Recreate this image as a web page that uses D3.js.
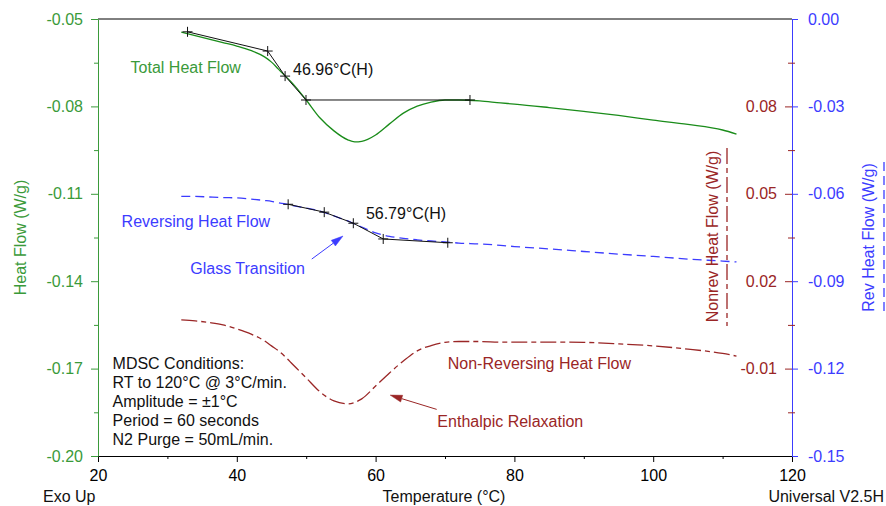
<!DOCTYPE html>
<html>
<head>
<meta charset="utf-8">
<script src="https://cdnjs.cloudflare.com/ajax/libs/d3/7.8.5/d3.min.js"></script>
<style>
  body { margin: 0; background: #fff; }
  svg text { font-family: "Liberation Sans", Arial, sans-serif; font-size: 16px; }
</style>
</head>
<body>
<svg id="canvas"></svg>
<script>
const WIDTH = 886;
const HEIGHT = 506;
const LEFT = 98;
const RIGHT = 792;
const TOP = 19;
const BOTTOM = 456;

const GREEN = "#3a9a3a";
const GREEN_LINE = "#1a8c1a";
const BLUE = "#3c3cff";
const RED = "#9a2626";
const NONREV_DASH = "16,4,5,4";
const REV_DASH = "9,5";

// temperature (°C) shared by the three signals
const temps = [32, 34, 36, 38, 40, 42, 44, 45, 46, 47, 48, 50, 52, 54, 56, 57, 58, 60, 62, 64,
  66, 68, 70, 72, 75, 78, 80, 85, 90, 95, 100, 105, 110, 112];

// Total Heat Flow (W/g), left axis
const totalFlow = [-0.0545, -0.0557, -0.0569, -0.0581, -0.0593, -0.0608, -0.0630, -0.0648, -0.0672,
  -0.0696, -0.0720, -0.0778, -0.0840, -0.0884, -0.0915, -0.0922, -0.0920, -0.0898, -0.0860, -0.0823,
  -0.0799, -0.0785, -0.0778, -0.0778, -0.0781, -0.0788, -0.0792, -0.0804, -0.0817, -0.0831, -0.0847,
  -0.0862, -0.0881, -0.0895];

// Reversing Heat Flow (W/g), right blue axis
const revFlow = [-0.0609, -0.0609, -0.0611, -0.0613, -0.0614, -0.0618, -0.0623, -0.0626, -0.0631,
  -0.0635, -0.0640, -0.0649, -0.0659, -0.0676, -0.0693, -0.0704, -0.0714, -0.0734, -0.0746, -0.0753,
  -0.0758, -0.0762, -0.0765, -0.0769, -0.0772, -0.0777, -0.0781, -0.0789, -0.0798, -0.0807, -0.0815,
  -0.0824, -0.0831, -0.0834];

// Non-Reversing Heat Flow (W/g), right red axis
const nonrevFlow = [0.0067, 0.0064, 0.0058, 0.0050, 0.0036, 0.0019, -0.0005, -0.0022, -0.0039,
  -0.0060, -0.0084, -0.0132, -0.0180, -0.0211, -0.0221, -0.0216, -0.0204, -0.0160, -0.0115, -0.0074,
  -0.0039, -0.0021, -0.0010, -0.0007, -0.0007, -0.0009, -0.0009, -0.0009, -0.0010, -0.0015, -0.0022,
  -0.0033, -0.0048, -0.0057];

// glass transition analysis constructions
const totalTangentT = [32.9, 44.45, 46.96, 49.97, 73.6];
const totalTangentV = [-0.0544, -0.0610, -0.0696, -0.0778, -0.0778];
const revTangentT = [47.4, 52.6, 56.79, 61.1, 70.4];
const revTangentV = [-0.0636, -0.0663, -0.0701, -0.0755, -0.0768];

// axis ticks
const xTicks = [20, 40, 60, 80, 100, 120];
const xMinor = [30, 50, 70, 90, 110];
const leftTicks = [-0.05, -0.08, -0.11, -0.14, -0.17, -0.20];
const leftMinor = [-0.065, -0.095, -0.125, -0.155, -0.185];
const revTicks = [0.0, -0.03, -0.06, -0.09, -0.12, -0.15];
const revMinor = [-0.015, -0.045, -0.075, -0.105, -0.135];
const nonrevTicks = [0.08, 0.05, 0.02, -0.01];

const conditions = [
  "MDSC Conditions:",
  "RT to 120°C @ 3°C/min.",
  "Amplitude = ±1°C",
  "Period = 60 seconds",
  "N2 Purge = 50mL/min."
];

const canvas = d3.select("#canvas").attr("width", WIDTH).attr("height", HEIGHT);

const xScale = d3.scaleLinear().domain([20, 120]).range([LEFT, RIGHT]);
const yLeft = d3.scaleLinear().domain([-0.20, -0.05]).range([BOTTOM, TOP]);
const yRev = d3.scaleLinear().domain([-0.15, 0.0]).range([BOTTOM, TOP]);
const yNonrev = d3.scaleLinear().domain([-0.04, 0.11]).range([BOTTOM, TOP]);

// plain hyphen instead of d3's unicode minus
const fmt2 = (d) => d3.format(".2f")(d).replace("\u2212", "-");

const styleAxis = (g, color) => {
  g.attr("font-size", 16).attr("font-family", "Liberation Sans, Arial, sans-serif");
  g.selectAll("line").attr("stroke", color);
  g.selectAll("path").attr("stroke", color);
  g.selectAll("text").attr("fill", color);
};

const drawAxes = () => {
  // top frame line
  canvas.append("line")
    .attr("x1", LEFT).attr("x2", RIGHT).attr("y1", TOP).attr("y2", TOP)
    .attr("stroke", "#000");

  const xAxis = d3.axisBottom(xScale).tickValues(xTicks).tickSize(6).tickSizeOuter(0)
    .tickPadding(8).tickFormat(d3.format("d"));
  canvas.append("g").attr("transform", `translate(0, ${BOTTOM})`).call(xAxis)
    .call((g) => styleAxis(g, "#000"));
  canvas.append("g").attr("transform", `translate(0, ${BOTTOM})`)
    .call(d3.axisBottom(xScale).tickValues(xMinor).tickSize(3).tickFormat(""))
    .call((g) => { styleAxis(g, "#000"); g.select(".domain").remove(); });

  const leftAxis = d3.axisLeft(yLeft).tickValues(leftTicks).tickSize(7).tickSizeOuter(0)
    .tickPadding(8).tickFormat(fmt2);
  canvas.append("g").attr("transform", `translate(${LEFT}, 0)`).call(leftAxis)
    .call((g) => styleAxis(g, GREEN));
  canvas.append("g").attr("transform", `translate(${LEFT}, 0)`)
    .call(d3.axisLeft(yLeft).tickValues(leftMinor).tickSize(4).tickFormat(""))
    .call((g) => { styleAxis(g, GREEN); g.select(".domain").remove(); });

  const revAxis = d3.axisRight(yRev).tickValues(revTicks).tickSize(6).tickSizeOuter(0)
    .tickPadding(10).tickFormat(fmt2);
  canvas.append("g").attr("transform", `translate(${RIGHT}, 0)`).call(revAxis)
    .call((g) => styleAxis(g, BLUE));

  const nonrevAxis = d3.axisLeft(yNonrev).tickValues(nonrevTicks).tickSize(7).tickSizeOuter(0)
    .tickPadding(8).tickFormat(fmt2);
  canvas.append("g").attr("transform", `translate(${RIGHT}, 0)`).call(nonrevAxis)
    .call((g) => { styleAxis(g, RED); g.select(".domain").remove(); });

  canvas.append("g").attr("transform", `translate(${RIGHT}, 0)`)
    .call(d3.axisRight(yRev).tickValues(revMinor).tickSize(3).tickFormat(""))
    .call((g) => { styleAxis(g, RED); g.select(".domain").remove(); });
  canvas.append("g").attr("transform", `translate(${RIGHT}, 0)`)
    .call(d3.axisLeft(yRev).tickValues(revMinor).tickSize(4).tickFormat(""))
    .call((g) => { styleAxis(g, RED); g.select(".domain").remove(); });
};

const drawCurves = () => {
  const line = (yScale) => d3.line()
    .x((d) => xScale(d[0]))
    .y((d) => yScale(d[1]))
    .curve(d3.curveMonotoneX);

  canvas.append("path")
    .datum(temps.map((t, i) => [t, totalFlow[i]]))
    .attr("d", line(yLeft))
    .attr("fill", "none").attr("stroke", GREEN_LINE).attr("stroke-width", 1.3);

  canvas.append("path")
    .datum(temps.map((t, i) => [t, revFlow[i]]))
    .attr("d", line(yRev))
    .attr("fill", "none").attr("stroke", BLUE).attr("stroke-width", 1.3)
    .attr("stroke-dasharray", REV_DASH);

  canvas.append("path")
    .datum(temps.map((t, i) => [t, nonrevFlow[i]]))
    .attr("d", line(yNonrev))
    .attr("fill", "none").attr("stroke", RED).attr("stroke-width", 1.3)
    .attr("stroke-dasharray", NONREV_DASH);
};

const drawTangents = (ts, vs, yScale) => {
  const pts = ts.map((t, i) => [xScale(t), yScale(vs[i])]);
  canvas.append("path")
    .attr("d", d3.line()(pts))
    .attr("fill", "none").attr("stroke", "#111").attr("stroke-width", 1);
  canvas.selectAll(null)
    .data(pts)
    .enter()
    .append("path")
    .attr("d", (p) => `M${p[0] - 5},${p[1]}H${p[0] + 5}M${p[0]},${p[1] - 5}V${p[1] + 5}`)
    .attr("stroke", "#111").attr("stroke-width", 1);
};

const drawArrow = (t1, v1, t2, v2, color) => {
  const x1 = xScale(t1), y1 = yLeft(v1), x2 = xScale(t2), y2 = yLeft(v2);
  const a = Math.atan2(y2 - y1, x2 - x1);
  const len = 12, w = 3.5;
  const bx = x2 - len * Math.cos(a), by = y2 - len * Math.sin(a);
  canvas.append("line")
    .attr("x1", x1).attr("y1", y1).attr("x2", bx).attr("y2", by)
    .attr("stroke", color).attr("stroke-width", 1);
  canvas.append("path")
    .attr("d", `M${x2},${y2}L${bx + w * Math.sin(a)},${by - w * Math.cos(a)}L${bx - w * Math.sin(a)},${by + w * Math.cos(a)}Z`)
    .attr("fill", color).attr("stroke", color).attr("stroke-width", 0.5);
};

const label = (text, t, v, color, anchor = "start") => {
  canvas.append("text")
    .attr("x", xScale(t)).attr("y", yLeft(v))
    .attr("dominant-baseline", "central")
    .attr("text-anchor", anchor)
    .attr("fill", color)
    .text(text);
};

const drawLabels = () => {
  label("Total Heat Flow", 24.7, -0.0668, GREEN);
  label("46.96°C(H)", 48.1, -0.0672, "#111");
  label("Reversing Heat Flow", 23.4, -0.1195, BLUE);
  label("56.79°C(H)", 58.6, -0.1166, "#111");
  label("Glass Transition", 33.3, -0.1358, BLUE);
  label("Non-Reversing Heat Flow", 70.4, -0.1681, RED);
  label("Enthalpic Relaxation", 68.9, -0.1880, RED);
  conditions.forEach((c, i) => label(c, 22.1, -0.1684 - i * 0.00652, "#111"));

  drawArrow(50.8, -0.1324, 55.3, -0.1245, BLUE);
  drawArrow(68.8, -0.1840, 62.1, -0.1791, RED);

  // axis titles
  const vTitle = (text, x, y, color) => {
    canvas.append("text")
      .attr("transform", `translate(${x}, ${y}) rotate(-90)`)
      .attr("text-anchor", "middle")
      .attr("dominant-baseline", "central")
      .attr("fill", color)
      .text(text);
  };
  vTitle("Heat Flow (W/g)", 20, 237.5, GREEN);
  vTitle("Nonrev Heat Flow (W/g)", 712, 236.5, RED);
  vTitle("Rev Heat Flow (W/g)", 868, 237.5, BLUE);

  canvas.append("line")
    .attr("x1", 727).attr("x2", 727).attr("y1", 148).attr("y2", 326)
    .attr("stroke", RED).attr("stroke-width", 1.3).attr("stroke-dasharray", NONREV_DASH);
  canvas.append("line")
    .attr("x1", 884).attr("x2", 884).attr("y1", 162).attr("y2", 313)
    .attr("stroke", BLUE).attr("stroke-width", 1.3).attr("stroke-dasharray", REV_DASH);

  const bottomText = (text, x, anchor) => {
    canvas.append("text")
      .attr("x", x).attr("y", 496)
      .attr("dominant-baseline", "central")
      .attr("text-anchor", anchor)
      .attr("fill", "#111")
      .text(text);
  };
  bottomText("Exo Up", 43, "start");
  bottomText("Temperature (°C)", 444, "middle");
  bottomText("Universal V2.5H", 884, "end");
};

drawAxes();
drawCurves();
drawTangents(totalTangentT, totalTangentV, yLeft);
drawTangents(revTangentT, revTangentV, yRev);
drawLabels();
</script>
</body>
</html>
